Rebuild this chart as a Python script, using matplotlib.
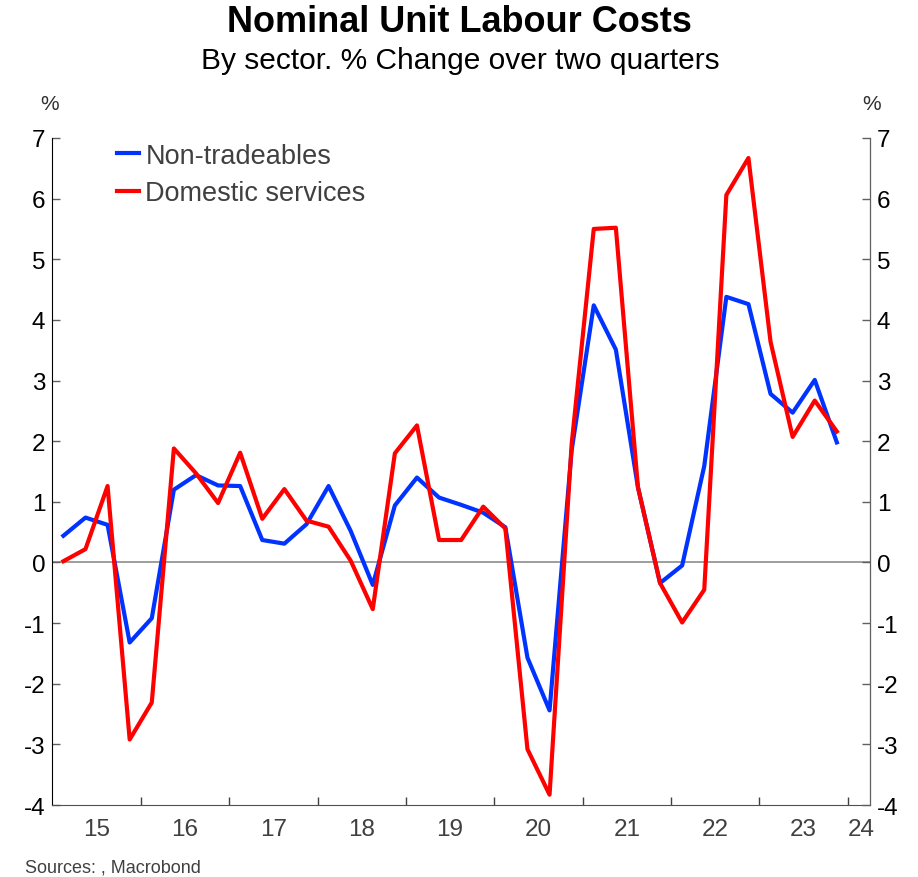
import matplotlib
matplotlib.use('Agg')
import matplotlib.pyplot as plt
import numpy as np

plt.rcParams['font.family'] = ['Liberation Sans', 'DejaVu Sans']
plt.rcParams['axes.unicode_minus'] = False

# quarterly data, 2015Q1 .. 2023Q4
years = [y for y in range(2015, 2024) for q in range(4)]
qtrs = [q for y in range(2015, 2024) for q in range(1, 5)]

non_tradeables = [0.44, 0.74, 0.62, -1.32, -0.92, 1.20, 1.44, 1.27,
                  1.26, 0.37, 0.31, 0.63, 1.26, 0.52, -0.37, 0.94,
                  1.40, 1.07, 0.95, 0.82, 0.58, -1.57, -2.44, 1.85,
                  4.24, 3.51, 1.24, -0.34, -0.05, 1.59, 4.38, 4.26,
                  2.78, 2.47, 3.01, 1.98]
domestic_services = [0.02, 0.22, 1.26, -2.92, -2.31, 1.88, 1.47, 0.98,
                     1.81, 0.72, 1.21, 0.69, 0.59, 0.03, -0.77, 1.80,
                     2.26, 0.37, 0.37, 0.92, 0.56, -3.08, -3.83, 1.95,
                     5.50, 5.52, 1.24, -0.34, -0.99, -0.45, 6.06, 6.67,
                     3.64, 2.07, 2.67, 2.16]

year_labels = ['15', '16', '17', '18', '19', '20', '21', '22', '23', '24']

# mid-quarter positions in fractional years
x = np.array(years) + (np.array(qtrs) - 0.5) / 4

fig = plt.figure(figsize=(9.18, 8.78), dpi=100)
ax = fig.add_axes([0.0570, 0.0820, 0.8907, 0.7597])

ax.axhline(0, color='#8c8c8c', lw=1.2, zorder=1)
ax.plot(x, non_tradeables, color='#0033ff', lw=3.0, label='Non-tradeables', zorder=3)
ax.plot(x, domestic_services, color='#ff0000', lw=3.0, label='Domestic services', zorder=4)

ax.set_xlim(2015, 2024.25)
ax.set_ylim(-4, 7)
ax.set_yticks(range(-4, 8))

# year ticks at year starts, labels mid-year
ax.set_xticks(range(2016, 2025))
ax.set_xticklabels([])
label_pos = [y + 0.5 for y in range(2015, 2024)] + [2024.15]
ax.set_xticks(label_pos, minor=True)
ax.set_xticklabels(year_labels, minor=True)
ax.tick_params(axis='x', which='major', direction='in', length=6, color='#404040', width=1)
ax.tick_params(axis='x', which='minor', length=0, pad=9, labelsize=17.5, labelcolor='#404040')
ax.tick_params(axis='y', direction='in', length=6, color='#606060', width=1, labelsize=17.5, pad=5)

ax2 = ax.twinx()
ax2.set_ylim(-4, 7)
ax2.set_yticks(range(-4, 8))
ax2.tick_params(axis='y', direction='in', length=6, color='#606060', width=1, labelsize=17.5, pad=5)

for a in (ax, ax2):
    a.spines['top'].set_visible(False)
ax.spines['left'].set_color('#000000')
ax.spines['bottom'].set_color('#505050')
ax2.spines['right'].set_color('#606060')
ax2.spines['left'].set_visible(False)
ax2.spines['bottom'].set_visible(False)

leg = ax.legend(loc='upper left', bbox_to_anchor=(0.079, 0.993), frameon=False,
                fontsize=19.5, handlelength=0.8, handletextpad=0.25,
                labelspacing=0.43, borderpad=0, borderaxespad=0)
for t in leg.get_texts():
    t.set_color('#404040')

fig.text(0.501, 1 - 23 / 878, 'Nominal Unit Labour Costs', ha='center', va='center',
         fontsize=26, fontweight='bold')
fig.text(0.501, 1 - 61 / 878, 'By sector. % Change over two quarters', ha='center',
         va='center', fontsize=21.5)
fig.text(50 / 918, 1 - 105 / 878, '%', ha='center', va='center', fontsize=15, color='#303030')
fig.text(872 / 918, 1 - 105 / 878, '%', ha='center', va='center', fontsize=15, color='#303030')
fig.text(25 / 918, 1 - 868 / 878, 'Sources: , Macrobond', ha='left', va='center',
         fontsize=13, color='#404040')

fig.savefig('out.png', dpi=100)
